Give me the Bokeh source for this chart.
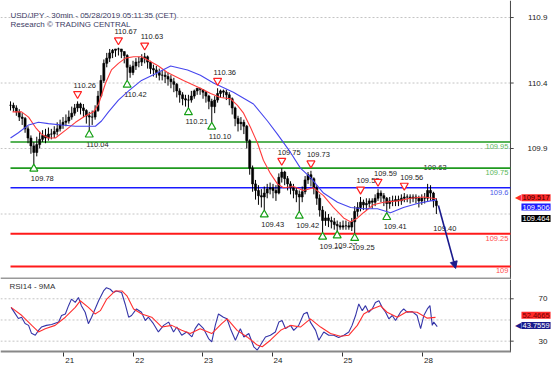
from bokeh.plotting import figure
from bokeh.layouts import column
from bokeh.models import (Range1d, FixedTicker, Label, Arrow, NormalHead,
                          CustomJSTickFormatter, ColumnDataSource)
from bokeh.core.properties import value
from bokeh.embed import file_html
from bokeh.resources import INLINE

FONT = "Liberation Sans"

# ---------------- data (hourly bars, x = hours from first bar) ----------------
close = [110.23, 110.21, 110.18, 110.14, 110.13, 110.05, 109.98, 109.92, 109.87, 109.93,
         109.97, 110.00, 109.98, 110.01, 110.01, 110.03, 110.05, 110.08, 110.10, 110.11,
         110.14, 110.17, 110.21, 110.24, 110.21, 110.19, 110.15, 110.14, 110.14, 110.19,
         110.30, 110.42, 110.55, 110.59, 110.63, 110.65, 110.66, 110.66, 110.64, 110.61,
         110.52, 110.48, 110.53, 110.56, 110.56, 110.59, 110.60, 110.56, 110.51, 110.50,
         110.48, 110.46, 110.46, 110.45, 110.43, 110.41, 110.39, 110.34, 110.31, 110.28,
         110.27, 110.27, 110.30, 110.34, 110.36, 110.35, 110.33, 110.30, 110.26, 110.22,
         110.27, 110.32, 110.34, 110.33, 110.31, 110.28, 110.21, 110.13, 110.09, 110.10,
         110.07, 109.96, 109.75, 109.63, 109.58, 109.54, 109.53, 109.56, 109.59, 109.60,
         109.58, 109.56, 109.68, 109.72, 109.67, 109.63, 109.60, 109.58, 109.55, 109.53,
         109.57, 109.66, 109.70, 109.67, 109.60, 109.52, 109.43, 109.35, 109.37, 109.35,
         109.34, 109.32, 109.31, 109.30, 109.31, 109.31, 109.30, 109.34, 109.42, 109.45,
         109.49, 109.47, 109.48, 109.50, 109.49, 109.52, 109.56, 109.54, 109.52, 109.48,
         109.50, 109.50, 109.51, 109.50, 109.52, 109.53, 109.53, 109.52, 109.53, 109.52,
         109.50, 109.52, 109.52, 109.58, 109.56, 109.50, 109.464]
high = [110.26, 110.25, 110.23, 110.20, 110.17, 110.14, 110.07, 110.00, 109.95, 109.99,
        110.03, 110.04, 110.05, 110.06, 110.05, 110.07, 110.10, 110.12, 110.14, 110.16,
        110.19, 110.22, 110.24, 110.26, 110.25, 110.24, 110.20, 110.18, 110.19, 110.23,
        110.34, 110.46, 110.58, 110.63, 110.66, 110.66, 110.66, 110.67, 110.65, 110.64,
        110.62, 110.54, 110.57, 110.59, 110.60, 110.62, 110.63, 110.61, 110.57, 110.54,
        110.53, 110.51, 110.50, 110.49, 110.48, 110.46, 110.44, 110.40, 110.36, 110.33,
        110.31, 110.31, 110.34, 110.35, 110.36, 110.35, 110.35, 110.34, 110.31, 110.28,
        110.30, 110.36, 110.35, 110.35, 110.35, 110.33, 110.29, 110.22, 110.15, 110.14,
        110.12, 110.08, 109.97, 109.77, 109.66, 109.62, 109.59, 109.61, 109.63, 109.64,
        109.63, 109.62, 109.71, 109.75, 109.73, 109.69, 109.65, 109.63, 109.60, 109.58,
        109.61, 109.69, 109.72, 109.73, 109.68, 109.62, 109.55, 109.46, 109.42, 109.40,
        109.38, 109.37, 109.35, 109.34, 109.35, 109.35, 109.34, 109.37, 109.46, 109.49,
        109.53, 109.51, 109.52, 109.52, 109.52, 109.55, 109.59, 109.58, 109.56, 109.53,
        109.53, 109.54, 109.54, 109.54, 109.55, 109.56, 109.55, 109.55, 109.55, 109.55,
        109.54, 109.55, 109.56, 109.63, 109.62, 109.57, 109.52]
low = [110.19, 110.18, 110.15, 110.11, 110.08, 110.02, 109.94, 109.86, 109.78, 109.84,
       109.90, 109.95, 109.94, 109.96, 109.97, 109.98, 110.00, 110.03, 110.05, 110.07,
       110.09, 110.12, 110.15, 110.18, 110.16, 110.14, 110.09, 110.04, 110.08, 110.12,
       110.18, 110.29, 110.40, 110.52, 110.56, 110.59, 110.60, 110.61, 110.59, 110.55,
       110.42, 110.44, 110.46, 110.50, 110.52, 110.53, 110.55, 110.51, 110.47, 110.45,
       110.44, 110.42, 110.42, 110.40, 110.38, 110.36, 110.33, 110.29, 110.25, 110.23,
       110.22, 110.21, 110.25, 110.28, 110.31, 110.31, 110.28, 110.25, 110.20, 110.10,
       110.17, 110.25, 110.29, 110.29, 110.27, 110.23, 110.16, 110.07, 110.03, 110.04,
       110.01, 109.90, 109.70, 109.57, 109.51, 109.47, 109.45, 109.43, 109.52, 109.55,
       109.52, 109.50, 109.55, 109.64, 109.62, 109.58, 109.55, 109.52, 109.49, 109.42,
       109.49, 109.55, 109.63, 109.61, 109.55, 109.47, 109.38, 109.26, 109.31, 109.30,
       109.29, 109.28, 109.27, 109.28, 109.28, 109.28, 109.28, 109.27, 109.25, 109.38,
       109.42, 109.43, 109.43, 109.45, 109.44, 109.46, 109.50, 109.49, 109.46, 109.41,
       109.44, 109.46, 109.46, 109.46, 109.47, 109.49, 109.49, 109.48, 109.49, 109.48,
       109.45, 109.47, 109.48, 109.50, 109.50, 109.45, 109.40]
hours = list(range(len(close)))

red_ma_x = [0.7, 3.8, 6.2, 8.6, 10.6, 13.0, 15.4, 18.9, 22.3, 25.7, 28.5, 30.2, 32.6, 34.6, 37.0,
            39.4, 42.2, 44.9, 48.3, 50.7, 53.8, 59.3, 65.1, 68.6, 72.0, 75.4, 77.8, 79.9, 82.3, 84.7,
            86.7, 89.1, 91.5, 93.6, 97.0, 100.4, 103.9, 107.3, 110.7, 114.2, 116.6, 119.0, 121.0,
            124.4, 127.9, 132.7, 137.1, 141.6, 146.0]
red_ma = [110.18, 110.18, 110.14, 110.06, 110.01, 109.98, 109.98, 110.04, 110.10, 110.15,
          110.18, 110.24, 110.40, 110.50, 110.55, 110.59, 110.60, 110.60, 110.56, 110.53,
          110.48, 110.42, 110.36, 110.32, 110.29, 110.28, 110.23, 110.17, 110.06, 109.94,
          109.81, 109.71, 109.63, 109.60, 109.61, 109.58, 109.60, 109.54, 109.45, 109.37,
          109.34, 109.37, 109.41, 109.47, 109.49, 109.50, 109.52, 109.53, 109.517]
blue_ma_x = [0.0, 2.7, 6.2, 9.6, 13.0, 17.5, 22.3, 29.1, 31.2, 33.6, 37.0, 40.5, 44.9, 49.7, 54.9,
             60.7, 65.1, 69.6, 76.4, 83.3, 88.1, 91.5, 96.0, 99.4, 102.8, 107.3, 112.1, 116.6,
             121.0, 125.8, 130.3, 134.7, 139.5, 144.0, 146.0]
blue_ma = [109.98, 110.02, 110.08, 110.10, 110.09, 110.08, 110.07, 110.07, 110.11, 110.18,
           110.27, 110.34, 110.42, 110.47, 110.53, 110.50, 110.46, 110.40, 110.33, 110.24,
           110.11, 110.01, 109.87, 109.75, 109.68, 109.56, 109.49, 109.45, 109.44, 109.44,
           109.41, 109.45, 109.48, 109.50, 109.506]

hi_piv_x = [23, 37, 46, 71, 93, 103, 120, 126, 135]
hi_piv = [110.26, 110.67, 110.63, 110.36, 109.75, 109.73, 109.53, 109.59, 109.56]
lo_piv_x = [8, 27, 40, 61, 69, 87, 99, 107, 112, 118, 129]
lo_piv = [109.78, 110.04, 110.42, 110.21, 110.10, 109.43, 109.42, 109.26, 109.27, 109.25, 109.41]
open_hi_x, open_hi = [143], [109.63]
open_lo_x, open_lo = [146], [109.40]

levels = [109.95, 109.75, 109.6, 109.25, 109.0]
level_text = ["109.95", "109.75", "109.6", "109.25", "109"]
level_colors = ["#1f9a1f", "#1f9a1f", "#1a1aff", "#ff1a1a", "#ff1a1a"]
level_text_colors = ["#5cb85c", "#5cb85c", "#4a5ae8", "#ff5050", "#ff5050"]
level_widths = [1.6, 1.6, 1.6, 2.0, 2.0]

forecast_x = [146.7, 152.6]
forecast_y = [109.465, 108.984]

rsi_x = [0.2, 1.6, 2.7, 3.8, 5.0, 6.2, 7.2, 8.5, 9.6, 10.6,
         12.3, 14.1, 16.5, 17.5, 18.8, 19.9, 20.9, 22.2, 23.3, 24.3,
         25.6, 26.7, 27.8, 29.0, 30.2, 31.9, 32.9, 34.2, 35.3, 36.3,
         38.1, 39.3, 40.5, 41.5, 43.2, 44.9, 46.2, 47.3, 49.0, 50.7,
         52.5, 54.2, 55.9, 57.0, 58.7, 60.4, 62.2, 63.3, 64.5, 66.2,
         67.9, 69.0, 70.2, 71.3, 73.0, 74.2, 75.4, 77.1, 78.8, 80.0,
         81.7, 83.4, 84.6, 85.7, 87.4, 89.1, 90.8, 92.0, 93.1, 94.3,
         96.0, 97.1, 98.8, 100.5, 101.7, 102.8, 104.6, 105.7, 107.4, 109.1,
         110.8, 112.5, 114.3, 116.0, 117.1, 118.3, 119.4, 120.6, 121.7, 122.8,
         124.0, 125.1, 126.3, 127.4, 128.6, 129.7, 130.9, 132.0, 133.7, 134.8,
         136.0, 137.7, 139.4, 140.6, 141.7, 142.9, 143.8, 144.6, 145.1, 146.3]
rsi = [61.9, 56.0, 51.4, 52.6, 46.7, 44.9, 37.4, 35.6, 40.2, 43.3,
       44.9, 45.8, 48.0, 54.2, 55.7, 63.5, 69.7, 66.6, 71.2, 63.5,
       57.3, 46.5, 52.6, 60.4, 68.1, 77.4, 80.5, 79.0, 75.9, 77.4,
       75.9, 65.1, 52.6, 54.2, 60.4, 57.3, 49.5, 52.6, 46.5, 38.7,
       44.9, 48.0, 38.7, 43.3, 35.6, 38.7, 34.0, 41.8, 46.5, 41.8,
       32.5, 29.4, 44.9, 55.7, 52.6, 51.1, 41.8, 30.9, 41.8, 34.0,
       37.2, 24.7, 21.6, 26.3, 34.0, 35.6, 38.7, 48.0, 49.5, 41.8,
       44.9, 40.2, 44.9, 55.7, 57.3, 48.0, 40.2, 30.9, 38.7, 35.6,
       35.6, 33.4, 35.6, 38.7, 44.9, 54.2, 65.1, 58.8, 63.5, 57.3,
       60.4, 66.6, 68.1, 61.9, 57.3, 51.1, 54.2, 49.5, 57.3, 60.4,
       57.3, 57.9, 54.2, 41.8, 54.2, 60.4, 63.5, 44.9, 48.0, 43.7559]
rsi_ma_x = [0.2, 3.9, 7.3, 9.6, 11.9, 15.3, 18.8, 22.2, 23.9, 26.7,
            29.0, 30.8, 33.0, 35.9, 38.2, 39.9, 42.2, 45.0, 48.4, 51.9,
            55.3, 58.7, 61.6, 65.0, 69.0, 72.4, 74.3, 77.7, 81.1, 84.6,
            86.3, 89.1, 92.6, 96.0, 99.4, 102.8, 106.3, 109.7, 113.1, 116.0,
            118.9, 121.1, 124.0, 126.8, 129.1, 132.6, 136.0, 139.4, 142.9, 145.7]
rsi_ma = [61.9, 54.2, 44.9, 38.7, 41.8, 44.9, 52.6, 61.9, 68.1, 61.9,
          55.7, 58.8, 69.7, 77.4, 77.4, 72.8, 60.4, 55.7, 52.6, 43.3,
          44.9, 40.2, 37.2, 41.8, 37.2, 46.5, 51.1, 40.2, 34.0, 26.3,
          24.7, 30.9, 40.2, 44.9, 43.3, 51.1, 43.3, 37.2, 34.7, 35.6,
          44.9, 55.7, 60.4, 63.5, 57.3, 52.6, 57.9, 57.3, 51.7, 52.4665]

day_ticks = [18.3, 42.3, 65.9, 89.7, 113.7, 141.3]
day_labels = ["21", "22", "23", "24", "25", "28"]
price_ticks = [109.9, 110.4, 110.9]
price_grid = [109.4, 109.9, 110.4, 110.9]
rsi_ticks = [30, 70]
rsi_grid = [30, 50, 70]

# ---------------- layout constants ----------------
W = 554
H1 = 279
H2 = 92
AX = 171.4                      # x position (hours) of the price scale line
NAVY = "#1a1a8c"
AXIS_C = "#444444"
xr = Range1d(-3.43, 186.5)
yr = Range1d(108.9, 111.03)
rr = Range1d(19.3, 88.2)
ppu = H1 / (yr.end - yr.start)


def base_style(fig):
    fig.outline_line_color = None
    fig.background_fill_color = "white"
    fig.border_fill_color = "white"
    fig.grid.visible = False


def price_scale(fig, rng, ticks, grid, label_fmt):
    # dotted grid up to the scale line
    fig.segment(x0=[rng[0]] * len(grid), x1=[AX] * len(grid), y0=grid, y1=grid,
                line_color="#c4c4c4", line_dash="2 2", line_width=1)
    # scale line and ticks
    fig.segment(x0=[AX], x1=[AX], y0=[rng[1]], y1=[rng[2]], line_color=AXIS_C, line_width=1)
    fig.segment(x0=[AX] * len(ticks), x1=[AX + 1.1] * len(ticks), y0=ticks, y1=ticks,
                line_color=AXIS_C, line_width=1)
    fig.text(x=[AX] * len(ticks), y=ticks, text=[label_fmt(t) for t in ticks],
             text_align="right", text_baseline="middle", x_offset=37,
             text_font=value(FONT), text_font_size="8px", text_color="#222222")


def value_box(fig, val, txt, bg, fg, off, pointer):
    fig.add_layout(Label(x=AX, y=val, x_offset=11, y_offset=off, text=txt,
                         text_baseline="middle", text_align="left", text_font=FONT,
                         text_font_size="7.5px", text_color=fg, background_fill_color=bg,
                         padding=1))
    if pointer:
        fig.add_layout(Label(x=AX, y=val, x_offset=11, y_offset=off, text="\u25c0",
                             text_baseline="middle", text_align="right",
                             text_font_size="8px", text_color=bg))


# ---------------- price panel ----------------
p = figure(width=W, height=H1, x_range=xr, y_range=yr, output_backend="svg",
           toolbar_location=None, x_axis_location=None, y_axis_location=None,
           min_border_left=0, min_border_right=0, min_border_top=0, min_border_bottom=0)
base_style(p)
price_scale(p, (xr.start, yr.start, yr.end), price_ticks, price_grid, lambda t: f"{t:.1f}")

# pivot labels (white background, drawn first)
lab_kw = dict(text_font=value(FONT), text_font_size="7.5px", text_color="#222222",
              text_align="left", text_baseline="middle", background_fill_color="white")
p.text(x=hi_piv_x + open_hi_x, y=hi_piv + open_hi,
       text=[f"{v:.2f}" for v in hi_piv + open_hi], x_offset=-4, y_offset=-16, **lab_kw)
p.text(x=lo_piv_x + open_lo_x, y=lo_piv + open_lo,
       text=[f"{v:.2f}" for v in lo_piv + open_lo], x_offset=-3, y_offset=14, **lab_kw)

# level lines
p.segment(x0=[hours[0]] * len(levels), x1=[AX] * len(levels), y0=levels, y1=levels,
          line_color=level_colors, line_width=level_widths)
p.text(x=[AX] * len(levels), y=levels, text=level_text, text_align="right",
       text_baseline="top", x_offset=-2, y_offset=2, text_color=level_text_colors,
       text_font_size="7.5px", text_font=value(FONT))

# candles
opens = close[:1] + close[:-1]
src = ColumnDataSource(dict(t=hours, o=opens, h=high, l=low, c=close))
p.segment(x0="t", y0="l", x1="t", y1="h", source=src, line_color="black", line_width=1)
p.vbar(x="t", width=0.7, top="o", bottom="c", source=src, fill_color="black",
       line_color="black", line_width=0.6)

# moving averages
p.line(red_ma_x, red_ma, line_color="#ff3b3b", line_width=1.1)
p.line(blue_ma_x, blue_ma, line_color="#4646ee", line_width=1.1)

# pivot markers
p.scatter(hi_piv_x, [v + 7.5 / ppu for v in hi_piv], marker="inverted_triangle", size=8,
          fill_color="white", line_color="#ff2020", line_width=1.2)
p.scatter(lo_piv_x, [v - 4.5 / ppu for v in lo_piv], marker="triangle", size=8,
          fill_color="white", line_color="#16a016", line_width=1.2)

# forecast arrow
p.add_layout(Arrow(end=NormalHead(size=7, fill_color=NAVY, line_color=NAVY),
                   x_start=forecast_x[0], y_start=forecast_y[0],
                   x_end=forecast_x[1], y_end=forecast_y[1],
                   line_color=NAVY, line_width=1.6))

# separator between panels
p.segment(x0=[xr.start], x1=[AX], y0=[yr.start], y1=[yr.start], line_color="#999999",
          line_width=4)

# titles
p.add_layout(Label(x=xr.start, y=yr.end, x_offset=10, y_offset=-10, text_baseline="top",
                   text="USD/JPY - 30min - 05/28/2019 05:11:35 (CET)", text_font=FONT,
                   text_font_size="8px", text_color="#3c3c64"))
p.add_layout(Label(x=xr.start, y=yr.end, x_offset=10, y_offset=-19, text_baseline="top",
                   text="Research \u00a9 TRADING CENTRAL", text_font=FONT,
                   text_font_size="8px", text_color="#3c3c64"))

# last-value boxes
value_box(p, red_ma[-1], f"{red_ma[-1]:.3f}", "#ff2a2a", "#3a0000", 1, True)
value_box(p, blue_ma[-1], f"{blue_ma[-1]:.3f}", "#1e1eff", "white", -7, False)
value_box(p, close[-1], f"{close[-1]:.3f}", "black", "white", -13, False)

# ---------------- RSI panel ----------------
q = figure(width=W, height=H2, x_range=xr, y_range=rr, output_backend="svg",
           toolbar_location=None, y_axis_location=None,
           min_border_left=0, min_border_right=0, min_border_top=0, min_border_bottom=19)
base_style(q)
price_scale(q, (xr.start, rr.start, rr.end), rsi_ticks, rsi_grid, lambda t: f"{t:g}")

xa = q.xaxis[0]
xa.ticker = FixedTicker(ticks=[t + 2.0 for t in day_ticks], minor_ticks=day_ticks)
xa.formatter = CustomJSTickFormatter(args=dict(labels=day_labels),
                                     code="return labels[index] !== undefined ? labels[index] : '';")
xa.axis_line_color = None
xa.major_tick_line_color = None
xa.major_tick_out = 0
xa.major_tick_in = 0
xa.minor_tick_line_color = "#333333"
xa.minor_tick_out = 4
xa.minor_tick_in = 0
xa.major_label_text_font_size = "8px"
xa.major_label_text_font = FONT
xa.major_label_text_color = "#222222"
xa.major_label_standoff = 1

# bottom line of the RSI panel
q.segment(x0=[xr.start], x1=[AX], y0=[rr.start], y1=[rr.start], line_color="#888888",
          line_width=4)

q.line(rsi_x, rsi, line_color="#3535a8", line_width=1.1)
q.line(rsi_ma_x, rsi_ma, line_color="#ff3030", line_width=1.1)

q.add_layout(Label(x=xr.start, y=rr.end, x_offset=9, y_offset=-2, text_baseline="top",
                   text="RSI14 - 9MA", text_font=FONT, text_font_size="8px",
                   text_color="#333333"))

value_box(q, rsi_ma[-1], f"{rsi_ma[-1]:.4f}", "#ff2a2a", "#700000", 2, False)
value_box(q, rsi[-1], f"{rsi[-1]:.4f}", NAVY, "white", 1, True)

layout = column(p, q, spacing=0)
open("out.html", "w").write(file_html(layout, INLINE))
